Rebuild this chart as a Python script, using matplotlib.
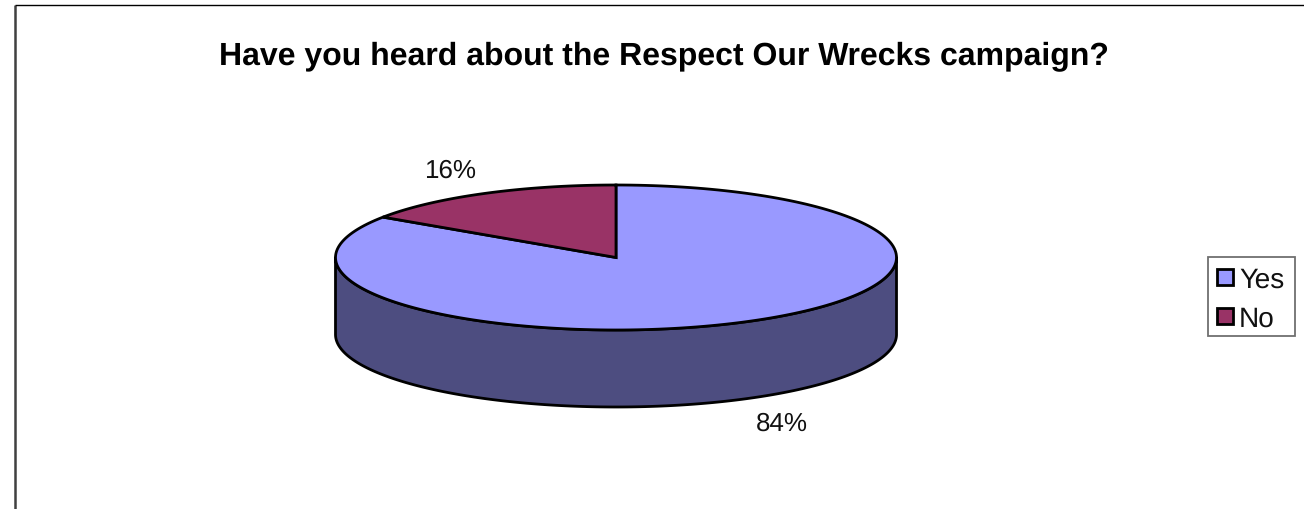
import numpy as np
import matplotlib
matplotlib.use("Agg")
import matplotlib.pyplot as plt
from matplotlib.patches import Polygon, Rectangle

plt.rcParams['font.family'] = ['Liberation Sans', 'DejaVu Sans']
plt.rcParams['text.hinting'] = 'none'
plt.rcParams['text.hinting_factor'] = 1

title = "Have you heard about the Respect Our Wrecks campaign?"
categories = ["Yes", "No"]
values = [84.4, 15.6]
top_colors = ["#9999ff", "#993366"]
side_colors = ["#4d4d80", "#4d1a33"]

# pie geometry, in picture pixels
cx, cy = 616, 258.5
rx, ry = 280.5, 72.5
depth = 77


def rim(start, end, n=200):
    # angles in degrees clockwise from twelve o'clock
    t = np.radians(np.linspace(start, end, n))
    return np.column_stack([cx + rx * np.sin(t), cy - ry * np.cos(t)])


fig = plt.figure(figsize=(13.04, 5.10), dpi=100)
ax = fig.add_axes([0, 0, 1, 1])
ax.set_xlim(0, 1304)
ax.set_ylim(510, 0)
ax.axis("off")

# chart frame, open at the bottom and right like the source crop
ax.plot([14.5, 14.5], [510, 5.5], color="#404040", lw=1.8, solid_capstyle="butt")
ax.plot([14.5, 1304], [5.5, 5.5], color="black", lw=1.0, solid_capstyle="butt")

ax.text(664, 56, title, ha="center", va="center", fontsize=23.05, fontweight="bold", color="black")

# side wall: only the front half of the rim is visible, and it belongs to "Yes"
front = rim(90, 270)
wall = np.vstack([front, (front + [0, depth])[::-1]])
ax.add_patch(Polygon(wall, closed=True, fc=side_colors[0], ec="black", lw=2.0, joinstyle="round"))

# top face
total = sum(values)
start = 0.0
for value, color in zip(values, top_colors):
    end = start + 360.0 * value / total
    pts = np.vstack([[cx, cy], rim(start, end)])
    ax.add_patch(Polygon(pts, closed=True, fc=color, ec="black", lw=2.0, joinstyle="miter"))
    start = end

ax.text(781.5, 424, f"{values[0]:.0f}%", ha="center", va="center", fontsize=19, color="#111111")
ax.text(450.5, 171.5, f"{values[1]:.0f}%", ha="center", va="center", fontsize=19, color="#111111")

# legend box
ax.add_patch(Rectangle((1207.5, 257.5), 87.5, 79.5, fc="white", ec="#707070", lw=1.3))
for name, color, y in zip(categories, top_colors, [278, 317]):
    ax.add_patch(Rectangle((1216.5, y - 8), 16, 16, fc=color, ec="black", lw=2.0))
    ax.text(1239, y + 2, name, ha="left", va="center", fontsize=20, color="#111111")

fig.savefig("out.png", dpi=100)
